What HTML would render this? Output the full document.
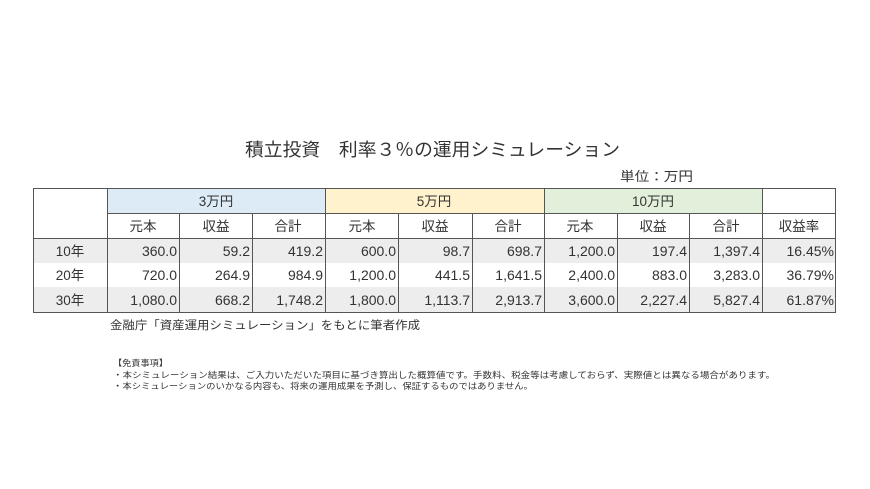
<!DOCTYPE html>
<html><head><meta charset="utf-8"><style>
html,body{margin:0;padding:0;background:#fff;}
svg{display:block;}
text{font-family:"Liberation Sans","Noto Sans CJK JP",sans-serif;fill:#333;}
</style></head><body>
<svg width="870" height="489" xmlns="http://www.w3.org/2000/svg">
<text x="245" y="156" font-size="18" textLength="375" lengthAdjust="spacingAndGlyphs">積立投資　利率３％の運用シミュレーション</text>
<text x="620" y="181" font-size="13" textLength="73" lengthAdjust="spacingAndGlyphs">単位：万円</text>
<!-- fills -->
<rect x="107" y="188" width="218" height="25" fill="#ddebf7"/>
<rect x="325" y="188" width="219" height="25" fill="#fff2cc"/>
<rect x="544" y="188" width="218" height="25" fill="#e2efda"/>
<rect x="33" y="238" width="803" height="25" fill="#ededed"/>
<rect x="33" y="287" width="803" height="26" fill="#ededed"/>
<!-- borders -->
<g stroke="#555" stroke-width="1" fill="none">
<rect x="33.5" y="188.5" width="802" height="124"/>
<line x1="107.5" y1="188" x2="107.5" y2="313"/>
<line x1="325.5" y1="188" x2="325.5" y2="313"/>
<line x1="544.5" y1="188" x2="544.5" y2="313"/>
<line x1="762.5" y1="188" x2="762.5" y2="313"/>
<line x1="179.5" y1="213" x2="179.5" y2="313"/>
<line x1="252.5" y1="213" x2="252.5" y2="313"/>
<line x1="398.5" y1="213" x2="398.5" y2="313"/>
<line x1="472.5" y1="213" x2="472.5" y2="313"/>
<line x1="617.5" y1="213" x2="617.5" y2="313"/>
<line x1="689.5" y1="213" x2="689.5" y2="313"/>
<line x1="107" y1="213.5" x2="836" y2="213.5"/>
<line x1="33" y1="238.5" x2="836" y2="238.5"/>
</g>
<g font-size="13.5" text-anchor="middle">
<text x="216" y="206">3万円</text><text x="434" y="206">5万円</text><text x="653" y="206">10万円</text>
<text x="143" y="231">元本</text><text x="216" y="231">収益</text><text x="288" y="231">合計</text>
<text x="362" y="231">元本</text><text x="435" y="231">収益</text><text x="508" y="231">合計</text>
<text x="580" y="231">元本</text><text x="653" y="231">収益</text><text x="726" y="231">合計</text>
<text x="799" y="231">収益率</text>
<text x="70" y="256">10年</text><text x="70" y="280">20年</text><text x="70" y="305">30年</text>
</g>
<g font-size="14" text-anchor="end">
<text x="177" y="256">360.0</text><text x="250" y="256">59.2</text><text x="323" y="256">419.2</text>
<text x="396" y="256">600.0</text><text x="470" y="256">98.7</text><text x="542" y="256">698.7</text>
<text x="615" y="256">1,200.0</text><text x="687" y="256">197.4</text><text x="760" y="256">1,397.4</text><text x="834" y="256">16.45%</text>
<text x="177" y="280">720.0</text><text x="250" y="280">264.9</text><text x="323" y="280">984.9</text>
<text x="396" y="280">1,200.0</text><text x="470" y="280">441.5</text><text x="542" y="280">1,641.5</text>
<text x="615" y="280">2,400.0</text><text x="687" y="280">883.0</text><text x="760" y="280">3,283.0</text><text x="834" y="280">36.79%</text>
<text x="177" y="305">1,080.0</text><text x="250" y="305">668.2</text><text x="323" y="305">1,748.2</text>
<text x="396" y="305">1,800.0</text><text x="470" y="305">1,113.7</text><text x="542" y="305">2,913.7</text>
<text x="615" y="305">3,600.0</text><text x="687" y="305">2,227.4</text><text x="760" y="305">5,827.4</text><text x="834" y="305">61.87%</text>
</g>
<text x="110" y="329" font-size="11.5" fill="#555" textLength="310" lengthAdjust="spacingAndGlyphs">金融庁「資産運用シミュレーション」をもとに筆者作成</text>
<g font-size="8.5" fill="#333">
<text x="113" y="366" textLength="55" lengthAdjust="spacingAndGlyphs">【免責事項】</text>
<text x="113" y="378" textLength="662" lengthAdjust="spacingAndGlyphs">・本シミュレーション結果は、ご入力いただいた項目に基づき算出した概算値です。手数料、税金等は考慮しておらず、実際値とは異なる場合があります。</text>
<text x="113" y="389" textLength="420" lengthAdjust="spacingAndGlyphs">・本シミュレーションのいかなる内容も、将来の運用成果を予測し、保証するものではありません。</text>
</g>
</svg>
</body></html>
